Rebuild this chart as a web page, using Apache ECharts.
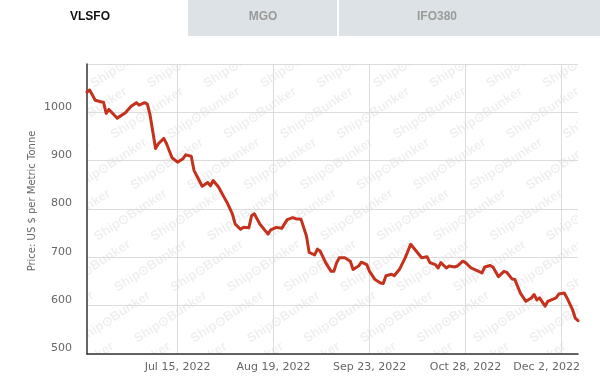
<!DOCTYPE html>
<html>
<head>
<meta charset="utf-8">
<script src="https://cdn.jsdelivr.net/npm/echarts@6/dist/echarts.min.js"></script>
<style>
html,body{margin:0;padding:0;background:#fff;}
#chart{width:600px;height:389px;}
</style>
</head>
<body>
<div id="chart"></div>
<script>
// ---- data ----
const tabs = ['VLSFO', 'MGO', 'IFO380'];
const yAxisName = 'Price: US $ per Metric Tonne';
const dates = [
  '2022-06-12','2022-06-13','2022-06-15','2022-06-17','2022-06-18','2022-06-19','2022-06-20','2022-06-22','2022-06-23','2022-06-26',
  '2022-06-28','2022-06-30','2022-07-01','2022-07-03','2022-07-04','2022-07-05','2022-07-07','2022-07-08','2022-07-10','2022-07-11',
  '2022-07-13','2022-07-15','2022-07-17','2022-07-18','2022-07-20','2022-07-21','2022-07-23','2022-07-24','2022-07-26','2022-07-27',
  '2022-07-28','2022-07-30','2022-08-01','2022-08-02','2022-08-04','2022-08-05','2022-08-07','2022-08-08','2022-08-10','2022-08-11',
  '2022-08-12','2022-08-14','2022-08-17','2022-08-18','2022-08-20','2022-08-22','2022-08-24','2022-08-26','2022-08-27','2022-08-29',
  '2022-08-31','2022-09-01','2022-09-03','2022-09-04','2022-09-05','2022-09-07','2022-09-09','2022-09-10','2022-09-11','2022-09-12',
  '2022-09-14','2022-09-16','2022-09-17','2022-09-19','2022-09-20','2022-09-22','2022-09-23','2022-09-25','2022-09-27','2022-09-28',
  '2022-09-29','2022-10-01','2022-10-02','2022-10-04','2022-10-06','2022-10-08','2022-10-10','2022-10-12','2022-10-14','2022-10-15',
  '2022-10-17','2022-10-18','2022-10-19','2022-10-21','2022-10-22','2022-10-24','2022-10-25','2022-10-27','2022-10-28','2022-10-30',
  '2022-11-01','2022-11-03','2022-11-04','2022-11-06','2022-11-07','2022-11-09','2022-11-11','2022-11-12','2022-11-14','2022-11-15',
  '2022-11-17','2022-11-19','2022-11-21','2022-11-22','2022-11-23','2022-11-24','2022-11-26','2022-11-27','2022-11-30','2022-12-01',
  '2022-12-03','2022-12-04','2022-12-06','2022-12-07','2022-12-08'
];
const prices = [
  1042,1046,1025,1022,1021,998,1006,994,988,999,
  1012,1020,1015,1020,1017,994,925,935,946,935,
  906,897,904,912,909,880,858,847,855,848,
  859,845,824,814,790,769,758,762,761,786,
  790,769,748,757,762,760,778,782,780,779,
  744,710,705,717,713,689,671,671,689,699,
  699,692,675,682,690,685,671,654,647,646,
  662,665,662,676,699,727,713,699,701,689,
  685,678,689,678,682,680,682,692,689,678,
  673,668,680,683,680,660,671,669,655,654,
  626,609,616,623,612,616,599,609,616,624,
  626,616,592,574,569
];
const xTickDates = ['2022-07-15','2022-08-19','2022-09-23','2022-10-28','2022-12-02'];
const xRange = ['2022-06-12','2022-12-08'];
const yMin = 500, yMax = 1100, yStep = 100;

// ---- helpers ----
const MONTHS = ['Jan','Feb','Mar','Apr','May','Jun','Jul','Aug','Sep','Oct','Nov','Dec'];
function ts(s){ const p = s.split('-').map(Number); return Date.UTC(p[0], p[1]-1, p[2]); }
function fmt(v){ const d = new Date(v); return MONTHS[d.getUTCMonth()] + ' ' + d.getUTCDate() + ', ' + d.getUTCFullYear(); }

const seriesData = dates.map((d, i) => [ts(d), prices[i]]);
const xTicks = xTickDates.map(ts);
const lastTick = xTicks[xTicks.length - 1];

// ---- layout ----
const W = 600, H = 389;
const G = {left: 87, top: 64, right: 578, bottom: 354};
const FONT = '"DejaVu Sans", Verdana, sans-serif';

// watermark + masks + tabs
const graphics = [];
const wmAngle = 33 * Math.PI / 180;
for (let k = -2; k <= 7; k++) {
  const y = 78 + 51 * k;
  for (let i = -8; i <= 8; i++) {
    const cx = 329 + 20 * k + 56.5 * i;
    const sx = cx - 11, sy = y + 7;
    if (sx < G.left - 90 || sx > G.right + 10) continue;
    graphics.push({
      type: 'text', x: sx, y: sy, rotation: wmAngle, silent: true, z: -10,
      style: {text: 'Ship\u2299Bunker', font: 'bold 13px "Liberation Sans", Arial, sans-serif',
              fill: 'rgba(0,0,0,0.065)', textAlign: 'left', textVerticalAlign: 'middle', verticalAlign: 'middle'}
    });
  }
}
const maskFill = '#ffffff';
graphics.push({type:'rect', z:-5, silent:true, shape:{x:0,y:0,width:W,height:G.top}, style:{fill:maskFill}});
graphics.push({type:'rect', z:-5, silent:true, shape:{x:0,y:0,width:G.left,height:H}, style:{fill:maskFill}});
graphics.push({type:'rect', z:-5, silent:true, shape:{x:G.right,y:0,width:W-G.right,height:H}, style:{fill:maskFill}});
graphics.push({type:'rect', z:-5, silent:true, shape:{x:0,y:G.bottom,width:W,height:H-G.bottom}, style:{fill:maskFill}});

const tabBoxes = [[0,188,true],[188,337,false],[339,600,false]];
tabs.forEach((t, i) => {
  const b = tabBoxes[i];
  if (!b[2]) {
    graphics.push({type:'rect', z:-4, silent:true, shape:{x:b[0], y:0, width:b[1]-b[0], height:36}, style:{fill:'#dce2e5'}});
  }
  graphics.push({type:'text', z:-3, silent:true, x: i === 0 ? 90 : (i === 1 ? 263 : 437), y: 17,
    style:{text:t, font:'bold 12px "Liberation Sans", Arial, sans-serif', fill: b[2] ? '#111111' : '#9a9a9a',
           textAlign:'center', textVerticalAlign:'middle', verticalAlign:'middle'}});
});

const labelStyle = {color: '#666', fontSize: 11, fontFamily: FONT};

const chart = echarts.init(document.getElementById('chart'), null, {renderer: 'canvas'});
chart.setOption({
  animation: false,
  backgroundColor: '#ffffff',
  grid: {left: G.left, top: G.top, right: W - G.right, bottom: H - G.bottom, containLabel: false, outerBoundsMode: 'none'},
  graphic: graphics,
  xAxis: {
    type: 'value',
    min: ts(xRange[0]), max: ts(xRange[1]),
    axisLine: {show: true, onZero: false, lineStyle: {color: '#333', width: 1.5}},
    axisTick: {show: false, customValues: xTicks},
    axisLabel: Object.assign({
      customValues: xTicks,
      formatter: v => (v === lastTick ? '{last|' + fmt(v) + '}' : fmt(v)),
      margin: 8,
      rich: {last: Object.assign({padding: [0, 30, 0, 0]}, labelStyle)}
    }, labelStyle),
    splitLine: {show: true, lineStyle: {color: '#dcdcdc', width: 1}}
  },
  yAxis: {
    type: 'value',
    min: yMin, max: yMax, interval: yStep,
    name: yAxisName, nameLocation: 'middle', nameGap: 50, nameMoveOverlap: false,
    nameTextStyle: {color: '#666', fontSize: 10, fontFamily: FONT, padding: [0, 0, 0, 16]},
    axisLine: {show: true, onZero: false, lineStyle: {color: '#333', width: 1.5}},
    axisTick: {show: false},
    axisLabel: Object.assign({showMaxLabel: false, formatter: v => String(v), margin: 15, verticalAlign: 'bottom'}, labelStyle),
    splitLine: {show: true, lineStyle: {color: '#dcdcdc', width: 1}}
  },
  series: [{
    type: 'line',
    data: seriesData,
    showSymbol: false,
    symbol: 'none',
    lineStyle: {color: '#c4311c', width: 3, join: 'round', cap: 'round'},
    z: 5
  }]
});
</script>
</body>
</html>
